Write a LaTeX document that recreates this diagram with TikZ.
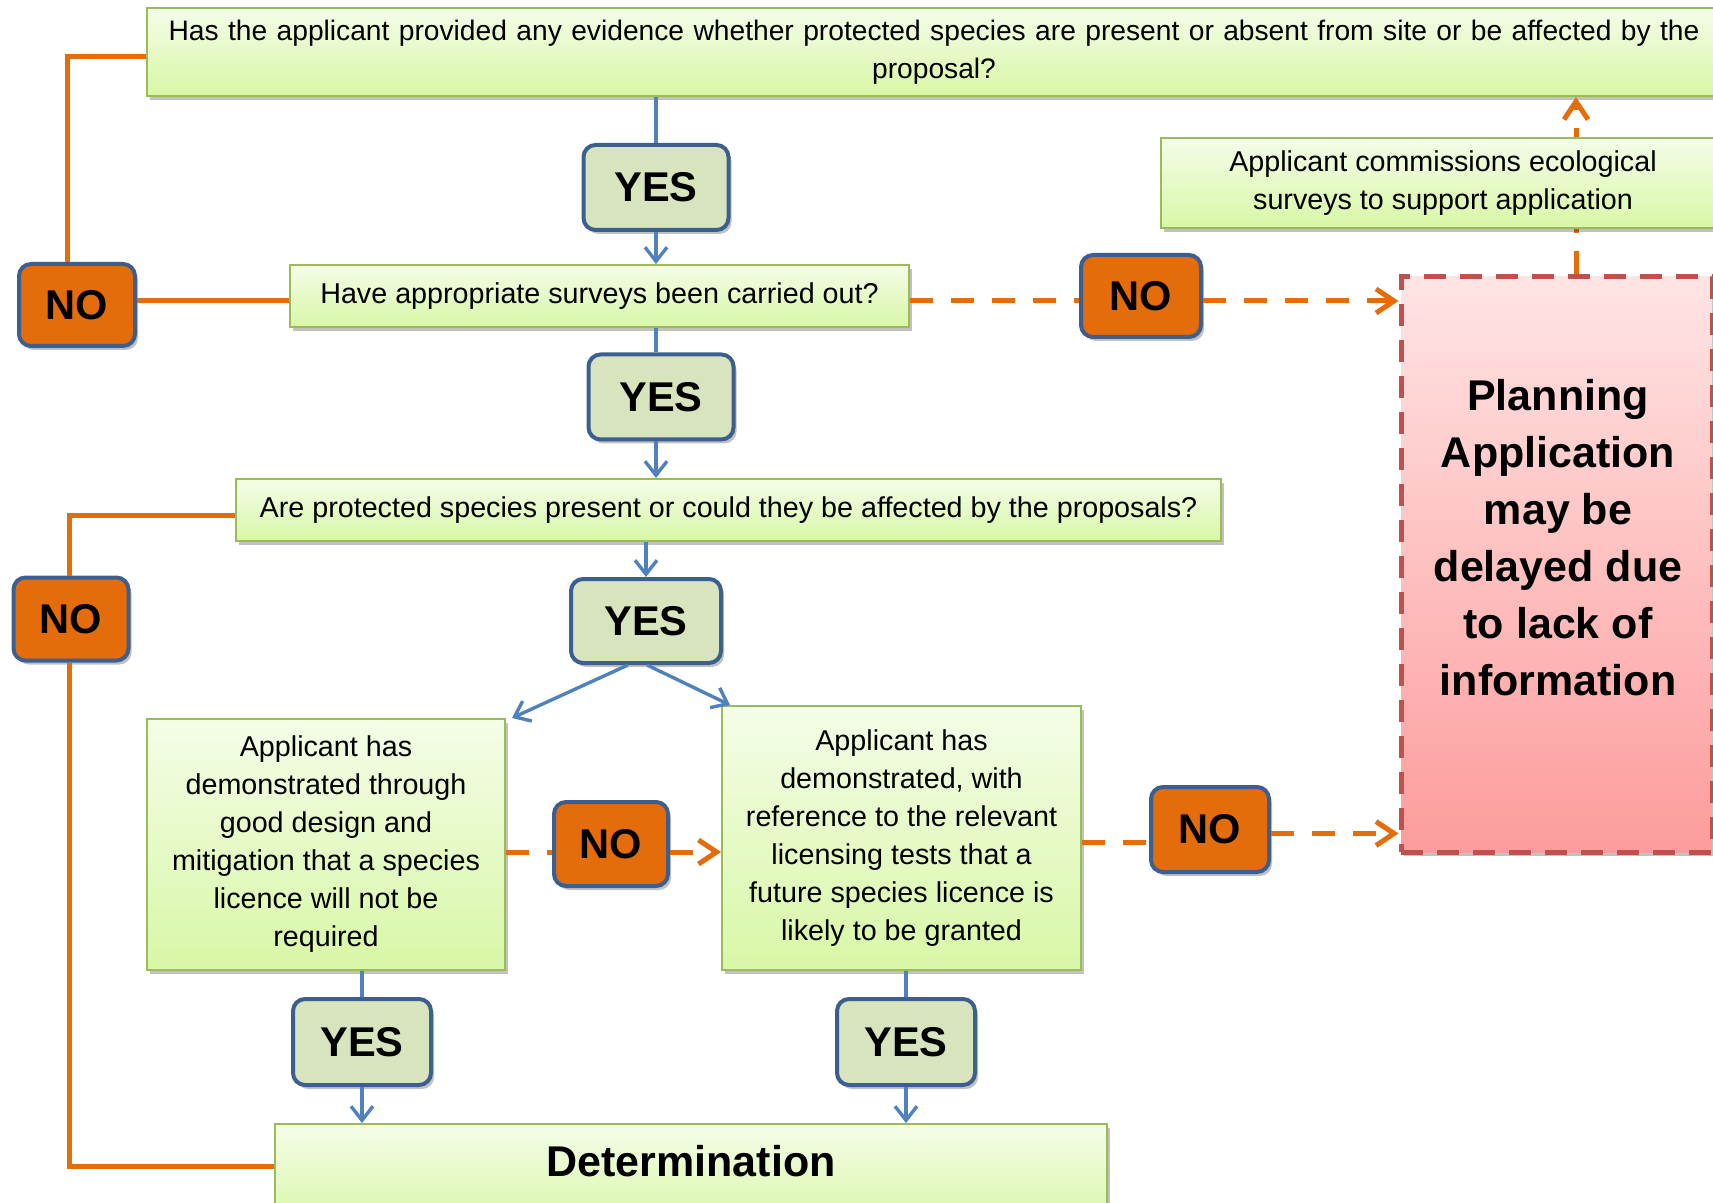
\documentclass[tikz,border=0pt]{standalone}
\usepackage{fontspec}
\setmainfont{Liberation Sans}
\usetikzlibrary{arrows.meta,shadows}
\definecolor{grnborder}{HTML}{9BBB59}
\definecolor{grntop}{HTML}{F4FDE8}
\definecolor{grnbot}{HTML}{D8F7A6}
\definecolor{yesfill}{HTML}{D7E4BD}
\definecolor{boxblue}{HTML}{3C5F8F}
\definecolor{nofill}{HTML}{E46C0A}
\definecolor{orng}{HTML}{E46C0A}
\definecolor{lblue}{HTML}{4F81BD}
\definecolor{pinktop}{HTML}{FFE4E4}
\definecolor{pinkbot}{HTML}{FD9C9C}
\definecolor{pinkborder}{HTML}{C0504D}
\newcommand\normtext{\fontsize{14.35pt}{19pt}\selectfont}
\newcommand\toptext{\fontsize{14.1pt}{19pt}\selectfont}
\newcommand\bigtext{\fontsize{20.8pt}{25pt}\selectfont\bfseries}
\newcommand\pinktext{\fontsize{21.5pt}{28.5pt}\selectfont\bfseries}
\begin{document}
\begin{tikzpicture}[x=0.5pt,y=-0.5pt,
  shad/.style={drop shadow={shadow xshift=1.5pt,shadow yshift=-2pt,opacity=0.3,fill=black!80}},
  gbox/.style={draw=grnborder,line width=1pt,top color=grntop,bottom color=grnbot,shad,align=center,inner sep=0pt,font=\normtext},
  yesbox/.style={draw=boxblue,line width=2pt,fill=yesfill,rounded corners=6pt,shad,inner sep=0pt,font=\bigtext},
  nobox/.style={yesbox,fill=nofill},
  bline/.style={draw=lblue,line width=1.7pt},
  barrow/.style={bline,-{Straight Barb[length=7pt,width=11pt]}},
  oline/.style={draw=orng,line width=2.5pt},
  odash/.style={draw=orng,line width=2.5pt,dash pattern=on 11.5pt off 9pt},
  oarrow/.style={odash,-{Straight Barb[length=9pt,width=12pt]}},
]
\useasboundingbox (0,0) rectangle (1713,1203);
\clip (0,0) rectangle (1713,1203);

% top question
\node[gbox,font=\toptext,minimum width=787pt,minimum height=44pt,text width=780pt] (top) at (934,52)
  {Has the applicant provided any evidence whether protected species are present or absent from site or be affected by the\\proposal?};
% pink outcome box
\node[draw=pinkborder,line width=2.5pt,dash pattern=on 11pt off 7pt,top color=pinktop,bottom color=pinkbot,shad,
  minimum width=155.5pt,minimum height=287.5pt,inner sep=0pt] (pink) at (1556.5,564.5) {};
\node[align=center,font=\pinktext,inner sep=0pt] (pinklbl) at (1558,538)
  {Planning\\Application\\may be\\delayed due\\to lack of\\information};
% dashed arrow up, behind the commission box
\draw[oarrow] ([xshift=9.75pt]pink.north) -- ([xshift=9.75pt]pink.north |- top.south);
\node[gbox,minimum width=282pt,minimum height=45pt] (comm) at (1443,183)
  {Applicant commissions ecological\\surveys to support application};

\node[yesbox,minimum width=72.5pt,minimum height=42.5pt] (yes1) at (656,187.5) {YES};
\node[gbox,minimum width=309.5pt,minimum height=31pt] (box2) at (599.5,296) {Have appropriate surveys been carried out?};
\node[nobox,minimum width=58pt,minimum height=41pt] (no1) at (77,305) {NO};
\node[yesbox,minimum width=72.5pt,minimum height=42.5pt] (yes2) at (661,397) {YES};
\node[gbox,minimum width=492.5pt,minimum height=31pt] (box3) at (728.5,510) {Are protected species present or could they be affected by the proposals?};
\node[nobox,minimum width=60pt,minimum height=41pt] (no2) at (1141,296) {NO};
\node[nobox,minimum width=57.5pt,minimum height=41.5pt] (nol2) at (71,619) {NO};
\node[yesbox,minimum width=75pt,minimum height=42pt] (yes3) at (646,621) {YES};
\node[gbox,minimum width=179pt,minimum height=125.5pt] (box4) at (326,844.5)
  {Applicant has\\demonstrated through\\good design and\\mitigation that a species\\licence will not be\\required};
\node[gbox,minimum width=179.5pt,minimum height=132pt] (box5) at (901.5,838)
  {Applicant has\\demonstrated, with\\reference to the relevant\\licensing tests that a\\future species licence is\\likely to be granted};
\node[nobox,minimum width=57pt,minimum height=42pt] (nomid) at (611,844) {NO};
\node[nobox,minimum width=59pt,minimum height=42.5pt] (no3) at (1210,829.5) {NO};
\node[yesbox,minimum width=69pt,minimum height=43pt] (yes4) at (362,1042) {YES};
\node[yesbox,minimum width=69pt,minimum height=43pt] (yes5) at (906,1042) {YES};
\node[gbox,minimum width=416pt,minimum height=53pt] (det) at (691,1177) {};
\node[font=\pinktext,inner sep=0pt] (detlbl) at (691,1161) {Determination};

% blue connectors
\draw[bline] (yes1.north) -- (yes1.north |- top.south);
\draw[barrow] (yes1.south) -- (yes1.south |- box2.north);
\draw[bline] (box2.south -| yes1.south) -- (yes2.north -| yes1.south);
\draw[barrow] (yes2.south -| yes1.south) -- (box3.north -| yes1.south);
\draw[barrow] (box3.south -| yes3.north) -- (yes3.north);
\draw[barrow] ([xshift=-9pt]yes3.south) -- ([xshift=3pt]box4.north east);
\draw[barrow] ([xshift=0.5pt]yes3.south) -- ([xshift=4.5pt]box5.north west);
\draw[bline] (box4.south -| yes4.north) -- (yes4.north);
\draw[barrow] (yes4.south) -- (yes4.south |- det.north);
\draw[bline] (box5.south -| yes5.north) -- (yes5.north);
\draw[barrow] (yes5.south) -- (yes5.south |- det.north);

% orange solid connectors
\draw[oline] ([yshift=-2.5pt]top.west) -| ([xshift=-5pt]no1.north);
\draw[oline] ([yshift=2pt]no1.east) -- ([yshift=2pt]no1.east -| box2.west);
\draw[oline] ([yshift=-2.5pt]box3.west) -| ([xshift=-1pt]nol2.north);
\draw[oline] ([xshift=-1pt]nol2.south) |- ([yshift=5.5pt]det.west);

% orange dashed connectors
\draw[odash] ([yshift=-2.5pt]box2.east) -- ([yshift=-2.5pt]box2.east -| no2.west);
\draw[oarrow] ([yshift=-2.5pt]no2.east) -- ([yshift=-2.5pt]no2.east -| pink.west);
\draw[odash] ([yshift=-4pt]box4.east) -- ([yshift=-4pt]box4.east -| nomid.west);
\draw[oarrow] ([yshift=-4pt]nomid.east) -- ([yshift=-4pt]nomid.east -| box5.west);
\draw[odash] ([yshift=-2pt]box5.east) -- ([yshift=-2pt]box5.east -| no3.west);
\draw[oarrow] ([yshift=-2pt]no3.east) -- ([yshift=-2pt]no3.east -| pink.west);
\end{tikzpicture}
\end{document}
